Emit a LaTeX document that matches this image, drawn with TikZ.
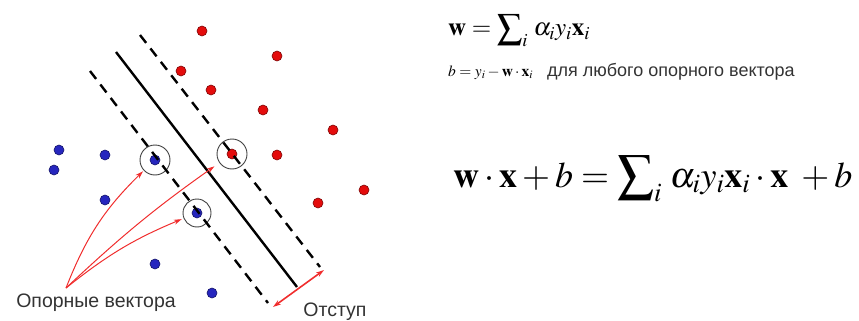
\documentclass[tikz,border=0pt]{standalone}
\usepackage{mathptmx}
\usepackage{fontspec}
\setmainfont{Liberation Serif}
\setsansfont{Liberation Sans}
\usetikzlibrary{arrows.meta, positioning}
\definecolor{SVMRed}{RGB}{228,12,12}
\definecolor{SVMBlue}{RGB}{38,38,190}
\definecolor{SVMArrow}{RGB}{240,45,45}

\begin{document}
\begin{tikzpicture}[x=1pt, y=-1pt,
  reddot/.style={circle, fill=SVMRed, draw=SVMRed!55!black, line width=0.6pt,
                 inner sep=0pt, minimum size=10pt},
  bluedot/.style={circle, fill=SVMBlue, draw=SVMBlue!55!black, line width=0.6pt,
                  inner sep=0pt, minimum size=10pt},
  svring/.style={circle, draw=black!75, line width=0.9pt, inner sep=0pt, minimum size=30pt},
  marginline/.style={line width=2.4pt, dash pattern=on 10pt off 7pt},
  arr/.style={-{Stealth[length=8pt, width=5pt]}, color=SVMArrow, line width=1pt},
  lbl/.style={font=\sffamily\fontsize{19.5}{21}\selectfont, text=black!80},
]
\useasboundingbox (0,0) rectangle (859,321);
%% Class +1
\node[reddot] (r1) at (202,31) {};
\node[reddot] (r2) at (277,56) {};
\node[reddot] (r3) at (181,71) {};
\node[reddot] (r4) at (211,90) {};
\node[reddot] (r5) at (263,110) {};
\node[reddot] (r6) at (333,130) {};
\node[reddot] (r7) at (232,154) {};
\node[reddot] (r8) at (277,155) {};
\node[reddot] (r9) at (364,190) {};
\node[reddot] (r10) at (318,203) {};
%% Class -1
\node[bluedot] (b1) at (59,150) {};
\node[bluedot] (b2) at (105,155) {};
\node[bluedot] (b3) at (54,170) {};
\node[bluedot] (b4) at (105,200) {};
\node[bluedot] (b5) at (155,160) {};
\node[bluedot] (b6) at (197,213) {};
\node[bluedot] (b7) at (155,264) {};
\node[bluedot] (b8) at (212,293) {};
%% Support vectors
\node[svring] (sv1) at (b5) {};
\node[svring] (sv2) at (r7) {};
\node[svring, minimum size=28pt] (sv3) at (b6) {};
%% Separating line and margins
\coordinate (lo1) at (90,71);   \coordinate (lo2) at (268,303);
\coordinate (mid1) at (116,52); \coordinate (mid2) at (297,287);
\coordinate (hi1) at (140,35);  \coordinate (hi2) at (320,267);
\draw[marginline] (lo1) -- (lo2);
\draw[marginline] (hi1) -- (hi2);
\draw[line width=2.4pt] (mid1) -- (mid2);
%% Margin width
\coordinate (m1) at (273,307);
\coordinate (m2) at (324,270);
\draw[{Stealth[length=8pt, width=5pt]}-{Stealth[length=8pt, width=5pt]}, color=SVMArrow, line width=1.6pt] (m1) -- (m2);
%% Labels
\node[lbl] (svlabel) at (96,303) {Опорные вектора};
\node[lbl] (mlabel) at (335,312) {Отступ};
\coordinate (src) at (66,288);
\draw[arr, shorten >=1pt] (src) to[bend left=12] (sv1);
\draw[arr, shorten >=6pt] (src) to[bend left=4] (sv2);
\draw[arr, shorten >=2pt] (src) to[bend left=8] (sv3);
%% Formulas
\node[anchor=base west, inner sep=0pt, font=\fontsize{25}{27}\selectfont] (f1) at (448,36)
  {$\mathbf{w}=\displaystyle\sum\nolimits_i\, \alpha_i y_i \mathbf{x}_i$};
\node[anchor=base west, inner sep=0pt] (f2) at (448,76)
  {{\fontsize{15.5}{17}\selectfont $b=y_i-\mathbf{w}\cdot\mathbf{x}_i$}\hspace{14pt}%
   {\sffamily\fontsize{18}{20}\selectfont\color{black!80}для любого опорного вектора}};
\node[anchor=base west, inner sep=0pt, font=\fontsize{36}{40}\selectfont] (f3) at (453,187)
  {$\mathbf{w}\cdot\mathbf{x}+b=\displaystyle\sum\nolimits_i\, \alpha_i y_i \mathbf{x}_i\cdot\mathbf{x}\;+b$};
\end{tikzpicture}
\end{document}
